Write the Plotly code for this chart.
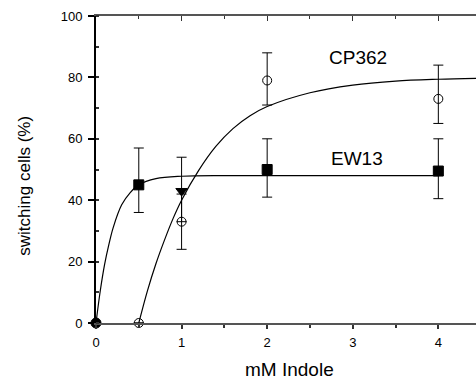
import plotly.graph_objects as go

# ---- data ----
conc = [0, 0.5, 1, 2, 4]

ew13_y = [0, 45, 43, 50, 49.5]
ew13_err_plus = [0, 12, 11, 10, 10.5]
ew13_err_minus = [0, 9, 10, 9, 9]
ew13_symbols = ["circle", "square", "triangle-down", "square", "square"]

cp362_x = [0.5, 1, 2, 4]
cp362_y = [0, 33, 79, 73]
cp362_err_plus = [0, 9, 9, 11]
cp362_err_minus = [0, 9, 8, 8]

# fitted curves
ew13_fit_x = [0, 0.05, 0.1, 0.15, 0.2, 0.3, 0.4, 0.5, 0.7, 1.0, 1.5, 2.0, 3.0, 4.0]
ew13_fit_y = [0, 10.5, 19, 25.5, 31, 38.5, 42.5, 45, 47, 47.8, 48, 48, 48, 48]

cp362_fit_x = [0.5, 0.6, 0.7, 0.8, 0.9, 1.0, 1.2, 1.4, 1.6, 1.8, 2.0, 2.5, 3.0, 3.5, 4.0, 4.44]
cp362_fit_y = [0, 10.4, 19.3, 27, 34, 40, 49.7, 57.5, 63.3, 67.5, 70.5, 75, 77.5, 78.8, 79.4, 79.7]

labels = ["CP362", "EW13"]
label_x = [3.06, 3.05]
label_y = [86.5, 53.5]

x_ticks = [0, 1, 2, 3, 4]
y_ticks = [0, 20, 40, 60, 80, 100]

FONT = "Arial, Liberation Sans, sans-serif"

fig = go.Figure()

fig.add_trace(go.Scatter(x=ew13_fit_x, y=ew13_fit_y, mode="lines", line=dict(color="black", width=1.2, shape="spline"),
                         showlegend=False, hoverinfo="skip", cliponaxis=False))
fig.add_trace(go.Scatter(x=cp362_fit_x, y=cp362_fit_y, mode="lines", line=dict(color="black", width=1.2, shape="spline"),
                         showlegend=False, hoverinfo="skip"))

fig.add_trace(go.Scatter(
    x=conc, y=ew13_y, mode="markers",
    marker=dict(symbol=ew13_symbols, size=10, color="black", line=dict(color="black", width=1)),
    error_y=dict(type="data", symmetric=False, array=ew13_err_plus, arrayminus=ew13_err_minus,
                 color="black", thickness=1, width=5),
    showlegend=False, cliponaxis=False))

fig.add_trace(go.Scatter(
    x=cp362_x, y=cp362_y, mode="markers",
    marker=dict(symbol="circle-open", size=9, color="black", line=dict(color="black", width=1)),
    error_y=dict(type="data", symmetric=False, array=cp362_err_plus, arrayminus=cp362_err_minus,
                 color="black", thickness=1, width=5),
    showlegend=False, cliponaxis=False))

# top axis helper trace
fig.add_trace(go.Scatter(x=[0], y=[0], xaxis="x2", mode="markers", marker=dict(opacity=0),
                         showlegend=False, hoverinfo="skip"))

for t, lx, ly in zip(labels, label_x, label_y):
    fig.add_annotation(x=lx, y=ly, text=t, showarrow=False, xref="x", yref="y",
                       font=dict(family=FONT, size=19, color="black"))

fig.add_annotation(x=-0.187, y=0.447, xref="paper", yref="paper", text="switching cells (%)",
                   textangle=-90, showarrow=False, xanchor="center", yanchor="middle",
                   font=dict(family=FONT, size=17, color="black"))
fig.add_annotation(x=0.508, y=-0.153, xref="paper", yref="paper", text="mM Indole",
                   showarrow=False, xanchor="center", yanchor="middle",
                   font=dict(family=FONT, size=19, color="black"))

fig.update_layout(
    width=476, height=379,
    margin=dict(l=96, r=0, t=16, b=56),
    paper_bgcolor="white", plot_bgcolor="white",
    font=dict(family=FONT, size=13, color="black"),
    xaxis=dict(range=[0, 4.44], tickvals=x_ticks, ticktext=[str(v) for v in x_ticks],
               showgrid=False, zeroline=False, showline=True, linecolor="#555", linewidth=1.5,
               ticks="outside", ticklen=4, tickcolor="#333", tickwidth=1.5, ticklabelstandoff=3,
               minor=dict(dtick=0.5, ticks="outside", ticklen=3, tickcolor="#333"),
               tickfont=dict(size=13)),
    xaxis2=dict(range=[0, 4.44], overlaying="x", side="top", showgrid=False, zeroline=False,
                showline=True, linecolor="#555", linewidth=1.5, ticks="inside", ticklen=5,
                tickvals=x_ticks, showticklabels=False, tickcolor="#333",
                minor=dict(dtick=0.5, ticks="inside", ticklen=3, tickcolor="#333")),
    yaxis=dict(range=[0, 100], tickvals=y_ticks, showgrid=False, zeroline=False,
               showline=True, linecolor="black", linewidth=2,
               ticks="outside", ticklen=6, tickcolor="black", tickwidth=1.5, ticklabelstandoff=3,
               minor=dict(dtick=10, ticks="inside", ticklen=3, tickcolor="#333"),
               tickfont=dict(size=13)),
)

fig.write_html("out.html", config={"displayModeBar": False},
               post_script="document.body.style.margin='0';document.body.style.overflow='hidden';")
